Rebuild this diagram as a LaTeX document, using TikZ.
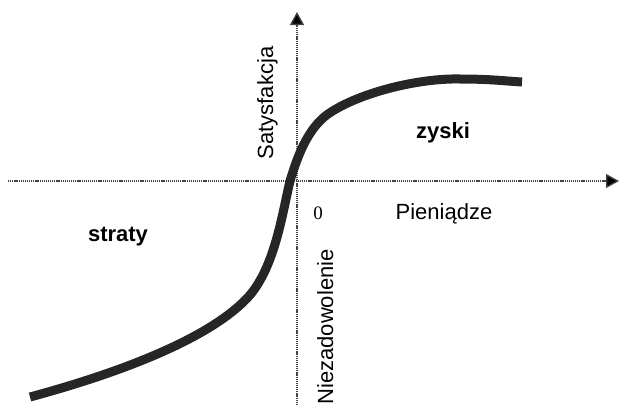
\documentclass[tikz,border=0pt]{standalone}
\usepackage{fontspec}
\setmainfont{Liberation Sans}
\newfontfamily\serifzero{Liberation Serif}
\usetikzlibrary{arrows.meta}
\definecolor{curvecol}{HTML}{262626}
\definecolor{axiscol}{HTML}{444444}
\begin{document}
\begin{tikzpicture}[x=1pt,y=-1pt,
  axisline/.style={axiscol,line width=1.3pt,dash pattern=on 1.2pt off 0.9pt,-{Triangle[length=13pt,width=14pt,fill=black]}},
  lbl/.style={font=\fontsize{22}{25}\selectfont,inner sep=0pt},
  blbl/.style={font=\fontsize{22}{25}\selectfont\bfseries,inner sep=0pt}]
\useasboundingbox (0,0) rectangle (619,405);
\coordinate (xs) at (8,181);
\coordinate (xe) at (619,181);
\coordinate (ys) at (297,405);
\coordinate (ye) at (297,12);
\draw[axisline] (xs) -- (xe);
\draw[axisline] (ys) -- (ye);
\draw[curvecol,line width=9pt,line cap=butt]
 (30,397) .. controls (130,370) and (215,335) .. (250,295)
 .. controls (275,265) and (282,215) .. (290,181)
 .. controls (297,158) and (307,129) .. (328,114)
 .. controls (360,92) and (420,78) .. (460,79)
 .. controls (490,79) and (505,81) .. (522,82);
\node[lbl,rotate=90,anchor=base] (sat) at (273,103) {Satysfakcja};
\node[lbl,rotate=90,anchor=base] (niez) at (333,327) {Niezadowolenie};
\node[lbl,anchor=base] (pien) at (444,219) {Pieniądze};
\node[inner sep=0pt,anchor=base,font=\serifzero\fontsize{19}{22}\selectfont] (zero) at (318,219) {0};
\node[blbl,anchor=base] (zyski) at (443,138) {zyski};
\node[blbl,anchor=base] (straty) at (118,241) {straty};
\end{tikzpicture}
\end{document}
